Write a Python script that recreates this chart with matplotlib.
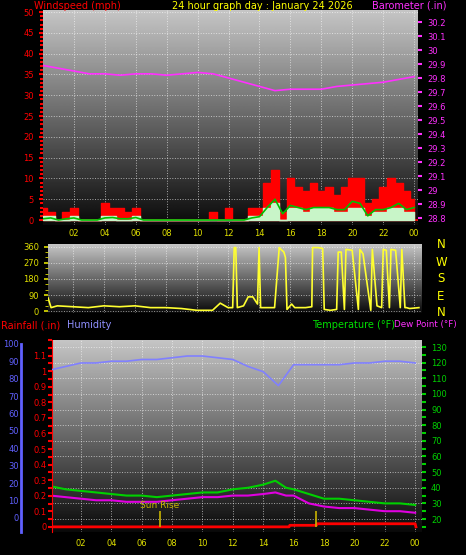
import matplotlib
matplotlib.use("Agg")
import matplotlib.pyplot as plt
import numpy as np

W, H = 466, 555
# ---------------- data ----------------
gust_hours = [0,0.5,1,1.5,2,2.5,3,3.5,4,4.5,5,5.5,6,6.5,7,7.5,8,8.5,9,9.5,10,10.5,11,11.5,12,12.5,13,13.5,14,14.5,15,15.5,16,16.5,17,17.5,18,18.5,19,19.5,20,20.5,21,21.5,22,22.5,23,23.5,24]
gust_mph   = [3,2,0,2,3,0,0,0,4,3,3,2,3,0,0,0,0,0,0,0,0,0,2,0,3,0,0,3,3,9,12,2,10,8,7,9,7,8,6,8,10,10,4,5,8,10,9,7,5]
wind_mph   = [1,1,0,0,1,0,0,0,1,1,0,0,1,0,0,0,0,0,0,0,0,0,0,0,0,0,0,1,1,3,4,0,3,3,2,3,3,3,2,2,3,3,1,2,2,3,3,2,2]
avg_mph    = [0.3,0.5,0,0.3,0.5,0,0,0,0.5,0.6,0.3,0.3,0.6,0,0,0,0,0,0,0,0,0,0,0,0,0,0,0.5,0.8,3,5,1.5,3.5,3,2.5,3,3,3,2.5,2.5,4.5,4,1,2.5,2.5,3,4,2.5,3]
baro_hours = [0,1,2,3,4,5,6,7,8,9,10,11,12,13,14,15,16,17,18,19,20,21,22,23,24]
baro_in    = [29.89,29.87,29.85,29.83,29.83,29.82,29.83,29.83,29.82,29.83,29.84,29.83,29.80,29.77,29.74,29.71,29.72,29.72,29.72,29.74,29.75,29.76,29.77,29.79,29.81]
dir_hours = [0.4,0.6,1,2,3,4,5,6,7,8,9,10,11,11.5,12,12.3,12.4,12.5,12.6,13,13.3,13.6,13.9,14.0,14.1,14.5,15,15.3,15.35,15.6,15.7,15.8,15.9,16.1,16.3,17,17.4,17.45,17.8,18.1,18.2,18.6,19,19.1,19.3,19.5,19.6,20,20.4,20.5,20.7,21.2,21.3,21.6,21.9,22,22.2,22.4,22.5,22.8,23.1,23.2,23.4,23.5,23.7,24.3]
dir_deg   = [75,20,30,25,20,30,25,30,20,20,15,5,5,45,20,20,355,355,20,30,80,80,40,355,20,20,20,355,350,330,300,10,20,40,20,20,25,355,355,350,10,5,10,330,330,10,345,340,10,345,320,5,345,30,20,345,340,20,345,340,20,345,20,20,15,20]
hum_hours = [0,1,2,3,4,5,6,7,8,9,10,11,12,13,14,14.5,15,15.5,16,17,18,19,20,21,22,23,24]
hum_pct   = [85,87,89,89,90,90,91,91,92,93,93,92,91,87,84,80,76,82,88,88,88,88,89,89,90,90,89]
temp_hours = [0,1,2,3,4,5,6,7,8,9,10,11,12,13,14,14.8,15.5,16,17,18,19,20,21,22,23,24]
temp_f     = [41,39,38,37,36,35,35,34,35,36,37,37,39,40,42,44.5,40,39,36,33,33,32,31,30,30,29]
dew_f      = [35,34,33,32,32,31,31,31,32,33,34,34,35,35,36,37,35,35,30,28,27,27,26,25,25,24]
rain_hours = [0,15.7,15.75,17.5,17.55,24,24.05]
rain_in    = [0,0,0.01,0.01,0.02,0.02,0]
sun_rise, sun_set = 7.2, 17.5
title = "24 hour graph day : January 24 2026"

plt.rcParams['font.family'] = ['DejaVu Sans']
fig = plt.figure(figsize=(W/100, H/100), dpi=100, facecolor='black')

def rect(l, t, r, b):
    return [l/W, 1-b/H, (r-l)/W, (b-t)/H]

grad = np.linspace(0, 1, 256).reshape(-1, 1)
def background(ax):
    ax.set_facecolor('black')
    ax.imshow(grad, cmap='gray', vmin=-0.05, vmax=1.3, extent=[0, 1, 0, 1],
              transform=ax.transAxes, aspect='auto', origin='lower', zorder=0)
    ax.grid(True, color='white', ls=':', lw=0.7, alpha=0.6)

fs = 6
tfs = 7
# ---------------- top panel ----------------
ax1 = fig.add_axes(rect(43, 10, 418, 225))
background(ax1)
ax1.set_xlim(0, 24.25)
ax1.set_ylim(-1.2, 50.5)
ax1.fill_between(gust_hours, gust_mph, step='mid', color='red', zorder=2)
ax1.fill_between(gust_hours, wind_mph, step='mid', color='#c8f5c8', zorder=3)
ax1.plot(gust_hours, avg_mph, color='#00c000', lw=1.2, zorder=4)
ax1.axhline(0, color='red', lw=1.2, zorder=2)
ax1.set_xticks(range(2, 25, 2))
ax1.set_xticklabels(['%02d' % (h % 24) for h in range(2, 25, 2)])
for s in ax1.spines.values():
    s.set_visible(False)
bx = ax1.twinx()
ax1.yaxis.tick_left()
ax1.set_yticks(range(0, 51, 5))
ax1.set_yticks(np.arange(0, 51, 1), minor=True)
ax1.tick_params(axis='y', colors='red', labelsize=fs, length=3, width=1.5)
ax1.tick_params(axis='y', which='minor', colors='red', length=2, width=1.5)
ax1.tick_params(axis='x', colors='#e0e000', labelsize=fs, length=0, pad=3)
bx.set_ylim(28.75, 30.286)
bx.plot(baro_hours, baro_in, color='#ff30ff', lw=1.2, zorder=5)
bvals = np.round(np.arange(28.8, 30.21, 0.1), 1)
bx.set_yticks(bvals)
bx.set_yticklabels(['%g' % v for v in bvals])
bx.tick_params(axis='y', colors='#ff30ff', labelsize=fs, length=3, width=1.5)
for s in bx.spines.values():
    s.set_visible(False)
fig.text(34/W, 1-1/H, "Windspeed (mph)", color='red', fontsize=tfs, va='top')
fig.text(172/W, 1-1/H, title, color='#ffff00', fontsize=tfs, va='top')
fig.text(372/W, 1-1/H, "Barometer (.in)", color='#ff30ff', fontsize=tfs, va='top')

# ---------------- direction panel ----------------
ax2 = fig.add_axes(rect(48, 244, 422, 313))
background(ax2)
ax2.set_xlim(0.4, 24.5)
ax2.set_ylim(-10, 375)
ax2.plot(dir_hours, dir_deg, color='#ffff30', lw=1.2, zorder=3)
ax2.set_yticks([0, 90, 180, 270, 360])
ax2.set_yticks(range(0, 361, 30), minor=True)
ax2.set_xticks(range(2, 25, 2))
ax2.set_xticklabels([])
ax2.tick_params(axis='x', length=0)
ax2.tick_params(axis='y', colors='#e0e000', labelsize=fs, length=3, width=1.2)
ax2.tick_params(axis='y', which='minor', colors='#e0e000', length=2)
for s in ax2.spines.values():
    s.set_visible(False)
for lab, yv in zip(['N', 'W', 'S', 'E', 'N'], [245, 262, 279, 296, 313]):
    fig.text(441/W, 1-yv/H, lab, color='#ffff00', fontsize=8.5, va='center', ha='center')

# ---------------- bottom panel ----------------
ax3 = fig.add_axes(rect(52, 340, 422, 532))
background(ax3)
ax3.set_xlim(0.1, 24.45)
ax3.set_ylim(11.7, 134.5)
ax3.plot(temp_hours, temp_f, color='#00d000', lw=1.5, zorder=4)
ax3.plot(temp_hours, dew_f, color='#e000e0', lw=1.5, zorder=4)
ax3.set_xticks(range(2, 25, 2))
ax3.set_xticklabels(['%02d' % (h % 24) for h in range(2, 25, 2)])
ax3.tick_params(axis='x', colors='#e0e000', labelsize=fs, length=0, pad=5)
for s in ax3.spines.values():
    s.set_visible(False)
rx = ax3.twinx()
hx = ax3.twinx()
ax3.yaxis.tick_right()
ax3.set_yticks(range(20, 131, 10))
ax3.set_yticks(range(15, 131, 5), minor=True)
ax3.tick_params(axis='y', which='both', colors='#00d000', labelsize=fs, length=3, width=1.5, right=True, left=False, labelright=True, labelleft=False)

rx.yaxis.tick_left()
rx.set_ylim(-0.033, 1.2)
rx.plot(rain_hours, rain_in, color='red', lw=2, zorder=5)
rx.vlines([sun_rise, sun_set], 0, 0.1, color='#c8b400', lw=1.2, zorder=5)
rx.text(sun_rise, 0.11, "Sun Rise", color='#c8b400', fontsize=6.5, ha='center', va='bottom')
rvals = np.round(np.arange(0, 1.11, 0.1), 1)
rx.set_yticks(rvals)
rx.set_yticklabels(['%g' % v for v in rvals])
rx.set_yticks(np.arange(0, 1.21, 0.05), minor=True)
rx.tick_params(axis='y', which='both', colors='red', labelsize=fs, length=3, width=1.5, pad=1, left=True, right=False)
for s in rx.spines.values():
    s.set_visible(False)
rx.spines['left'].set_visible(True)
rx.spines['left'].set_color('red')
rx.spines['left'].set_linestyle((0, (2, 1)))

hx.yaxis.tick_left()
hx.set_ylim(-8.1, 102.2)
hx.plot(hum_hours, hum_pct, color='#8080ff', lw=1.2, zorder=5)
hx.set_yticks(range(0, 101, 10))
for s in hx.spines.values():
    s.set_visible(False)
hx.spines['left'].set_visible(True)
hx.spines['left'].set_position(('outward', 22))
hx.spines['left'].set_color('#6060ff')
hx.spines['left'].set_linewidth(2)
hx.spines['left'].set_bounds(-8.1, 100)
hx.tick_params(axis='y', colors='#6060ff', labelsize=fs, length=0, pad=2, left=True, right=False)
fig.text(1/W, 1-320/H, "Rainfall (.in)", color='red', fontsize=tfs, va='top')
fig.text(67/W, 1-320/H, "Humidity", color='#9090ff', fontsize=tfs, va='top')
fig.text(312/W, 1-320/H, "Temperature (°F)", color='#00e000', fontsize=tfs, va='top')
fig.text(394/W, 1-320/H, "Dew Point (°F)", color='#ff30ff', fontsize=6.3, va='top')

fig.savefig("out.png", dpi=100, facecolor='black')
